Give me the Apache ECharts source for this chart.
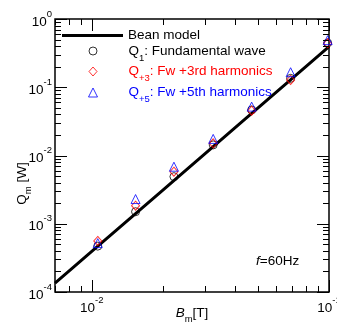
<!DOCTYPE html>
<html>
<head>
<meta charset="utf-8">
<script src="https://cdn.jsdelivr.net/npm/echarts@6/dist/echarts.min.js"></script>
<style>html,body{margin:0;padding:0;background:#fff}#c{width:337px;height:322px}</style>
</head>
<body>
<div id="c"></div>
<script>
// ---- data ----
const beanB = [0.007, 0.01, 0.02, 0.04, 0.07, 0.1];
const beanQ = [1.35e-4, 3.93e-4, 3.14e-3, 0.0251, 0.1347, 0.393];

const measB = [0.0106, 0.0153, 0.0222, 0.0325, 0.0472, 0.0689, 0.0987];
const q1 = [4.7e-4, 1.5e-3, 4.9e-3, 0.0143, 0.0465, 0.135, 0.445];
const q3 = [5.6e-4, 1.84e-3, 5.8e-3, 0.0151, 0.0453, 0.128, 0.441];
const q5 = [5.2e-4, 2.3e-3, 6.85e-3, 0.0175, 0.052, 0.166, 0.49];

const xTickMajor = [0.01, 0.1];
const xTickMinor = [0.007, 0.008, 0.009, 0.02, 0.03, 0.04, 0.05, 0.06, 0.07, 0.08, 0.09];
const yTickMajor = [1e-4, 1e-3, 1e-2, 1e-1, 1];
const yTickMinor = [2e-4, 3e-4, 4e-4, 5e-4, 6e-4, 7e-4, 8e-4, 9e-4,
                    2e-3, 3e-3, 4e-3, 5e-3, 6e-3, 7e-3, 8e-3, 9e-3,
                    0.02, 0.03, 0.04, 0.05, 0.06, 0.07, 0.08, 0.09,
                    0.2, 0.3, 0.4, 0.5, 0.6, 0.7, 0.8, 0.9];

const names = ['Bean model', 'Q1: Fundamental wave', 'Q+3: Fw +3rd harmonics', 'Q+5: Fw +5th harmonics'];
const legendLabels = ['{t|Bean model}', '{q|Q}{s|1}{t|: Fundamental wave}', '{q|Q}{s|+3}{t|: Fw +3rd harmonics}', '{q|Q}{s|+5}{t|: Fw +5th harmonics}'];

// ---- rendering ----
const FONT = 'Liberation Sans, Arial, sans-serif';
const FS = 13.5;
const RED = '#ff0000', BLUE = '#0000ff';

function pow10Label(v) {
  const e = Math.log10(v);
  if (Math.abs(e - Math.round(e)) > 1e-6) return '';
  return '{b|10}{s|' + Math.round(e) + '}';
}
const supRich = {
  b: {fontSize: FS, fontFamily: FONT, color: '#000', lineHeight: 20, verticalAlign: 'bottom'},
  s: {fontSize: 9.5, fontFamily: FONT, color: '#000', verticalAlign: 'top'}
};

function tickSeries(axis, values, len) {
  return {
    type: 'custom', silent: true, clip: false, z: 5,
    data: values.map(v => axis === 'x' ? [v, 0.01] : [0.05, v]),
    renderItem: function (params, api) {
      const cs = params.coordSys;
      const p = api.coord([api.value(0), api.value(1)]);
      const st = {stroke: '#000', lineWidth: 1};
      if (axis === 'x') {
        const x = Math.round(p[0]) + 0.5;
        const yb = cs.y + cs.height, yt = cs.y;
        return {type: 'group', children: [
          {type: 'line', shape: {x1: x, y1: yb, x2: x, y2: yb - len}, style: st},
          {type: 'line', shape: {x1: x, y1: yt, x2: x, y2: yt + len}, style: st}
        ]};
      } else {
        const y = Math.round(p[1]) + 0.5;
        const xl = cs.x, xr = cs.x + cs.width;
        return {type: 'group', children: [
          {type: 'line', shape: {x1: xl, y1: y, x2: xl + len, y2: y}, style: st},
          {type: 'line', shape: {x1: xr, y1: y, x2: xr - len, y2: y}, style: st}
        ]};
      }
    }
  };
}

// marker legends: icon centred at x=92, text starting at x=128
function legendFor(i, top, color, opts) {
  const iw = opts.iw, ih = opts.ih;
  const left = opts.lineIcon ? 62 : 92.5 - iw / 2;
  const textStart = left + iw + 5;
  const lg = {
    left: left, top: top, padding: 0, itemGap: 0, itemWidth: iw, itemHeight: ih,
    selectedMode: false, data: [names[i]],
    formatter: () => legendLabels[i],
    itemStyle: {borderWidth: opts.lineIcon ? 0 : 1},
    textStyle: {
      fontFamily: FONT, fontSize: FS, color: color,
      padding: [0, 0, 0, Math.max(0, 128 - textStart)],
      rich: {
        t: {fontFamily: FONT, fontSize: FS, color: color, lineHeight: 24},
        q: {fontFamily: FONT, fontSize: FS, color: color, lineHeight: 24},
        s: {fontFamily: FONT, fontSize: 9.5, color: color, verticalAlign: 'bottom'}
      }
    }
  };
  if (opts.lineIcon) lg.icon = 'rect';
  return lg;
}

const chart = echarts.init(document.getElementById('c'), null, {renderer: 'canvas'});
chart.setOption({
  animation: false,
  backgroundColor: '#fff',
  textStyle: {fontFamily: FONT},
  title: {
    text: '{i|f}{n|=60Hz}', left: 256, top: 254, padding: 0,
    textStyle: {fontWeight: 'normal', rich: {
      i: {fontFamily: FONT, fontSize: FS, fontStyle: 'italic', fontWeight: 'normal', color: '#000'},
      n: {fontFamily: FONT, fontSize: FS, fontWeight: 'normal', color: '#000'}
    }}
  },
  legend: [
    legendFor(0, 28.5, '#000', {iw: 61, ih: 3, lineIcon: true}),
    legendFor(1, 44, '#000', {iw: 8, ih: 8}),
    legendFor(2, 64.5, RED, {iw: 8, ih: 9}),
    legendFor(3, 85.5, BLUE, {iw: 9, ih: 9})
  ],
  grid: {left: 55, top: 19, right: 8, bottom: 30, show: true, borderColor: '#000', borderWidth: 1.5,
         backgroundColor: 'transparent', containLabel: false, outerBoundsMode: 'none'},
  xAxis: {
    type: 'log', logBase: 10, min: 0.007, max: 0.1,
    axisLine: {show: false}, axisTick: {show: false}, splitLine: {show: false},
    axisLabel: {formatter: pow10Label, margin: 3, rich: supRich, showMinLabel: false, hideOverlap: false},
    name: '{i|B}{s|m}{n|[T]}', nameLocation: 'middle', nameGap: 10, nameMoveOverlap: false,
    nameTextStyle: {rich: {
      i: {fontFamily: FONT, fontSize: FS, fontStyle: 'italic', color: '#000', lineHeight: 22},
      s: {fontFamily: FONT, fontSize: 9.5, color: '#000', verticalAlign: 'bottom'},
      n: {fontFamily: FONT, fontSize: FS, color: '#000', lineHeight: 22}
    }}
  },
  yAxis: {
    type: 'log', logBase: 10, min: 1e-4, max: 1,
    axisLine: {show: false}, axisTick: {show: false}, splitLine: {show: false},
    axisLabel: {formatter: pow10Label, margin: 3, rich: supRich},
    name: '{q|Q}{s|m}{n| [W]}', nameLocation: 'middle', nameGap: 22, nameMoveOverlap: false,
    nameTextStyle: {padding: [0, 56, 0, 0], rich: {
      q: {fontFamily: FONT, fontSize: FS, color: '#000', lineHeight: 22},
      s: {fontFamily: FONT, fontSize: 9.5, color: '#000', verticalAlign: 'bottom'},
      n: {fontFamily: FONT, fontSize: FS, color: '#000', lineHeight: 22}
    }}
  },
  series: [
    tickSeries('x', xTickMajor, 12),
    tickSeries('x', xTickMinor, 6),
    tickSeries('y', yTickMajor, 12),
    tickSeries('y', yTickMinor, 6),
    {
      name: names[0], type: 'line', symbol: 'none', z: 3,
      data: beanB.map((b, i) => [b, beanQ[i]]),
      lineStyle: {color: '#000', width: 3}, itemStyle: {color: '#000'}
    },
    {
      name: names[1], type: 'scatter', symbol: 'circle', symbolSize: 8, z: 4,
      data: measB.map((b, i) => [b, q1[i]]),
      itemStyle: {color: 'transparent', borderColor: '#000', borderWidth: 1}
    },
    {
      name: names[2], type: 'scatter', symbol: 'diamond', symbolSize: [8, 9], z: 4,
      data: measB.map((b, i) => [b, q3[i]]),
      itemStyle: {color: 'transparent', borderColor: RED, borderWidth: 1}
    },
    {
      name: names[3], type: 'scatter', symbol: 'triangle', symbolSize: [9, 9], z: 4,
      data: measB.map((b, i) => [b, q5[i]]),
      itemStyle: {color: 'transparent', borderColor: BLUE, borderWidth: 1}
    }
  ]
});
</script>
</body>
</html>
